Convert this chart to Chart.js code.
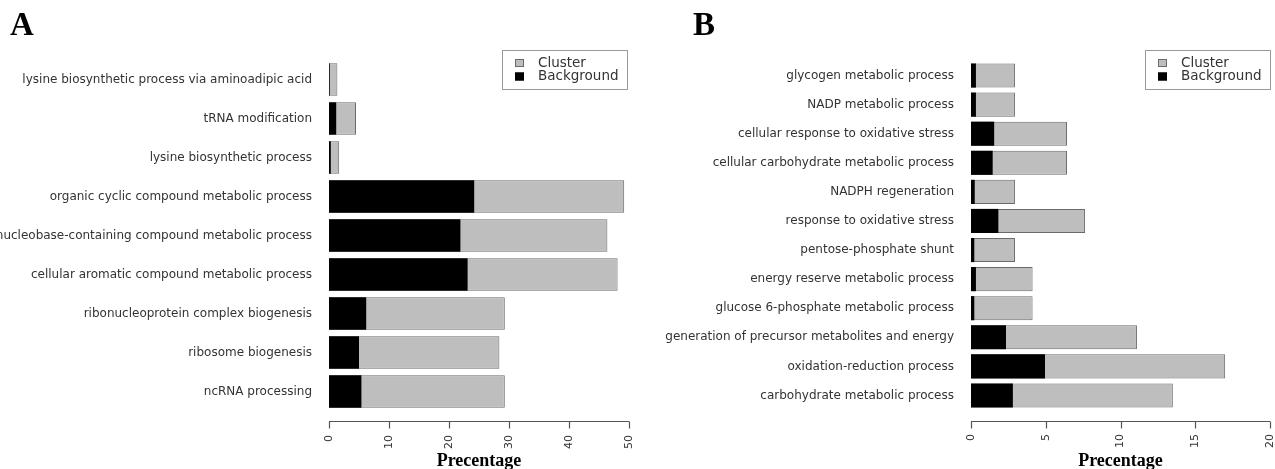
<!DOCTYPE html>
<html>
<head>
<meta charset="utf-8">
<title>GO enrichment, cluster vs background</title>
<script src="https://cdn.jsdelivr.net/npm/chart.js@4.4.1/dist/chart.umd.min.js"></script>
<style>
  html, body { margin: 0; padding: 0; background: #fff; }
  #wrap { position: relative; width: 1275px; height: 469px; }
  #chartA { position: absolute; left: 0; top: 0; }
  #chartB { position: absolute; left: 640px; top: 0; }
</style>
</head>
<body>
<div id="wrap">
  <canvas id="chartA" width="640" height="469"></canvas>
  <canvas id="chartB" width="635" height="469"></canvas>
</div>
<script>
// Panel A
const termsA = [
  'lysine biosynthetic process via aminoadipic acid',
  'tRNA modification',
  'lysine biosynthetic process',
  'organic cyclic compound metabolic process',
  'nucleobase-containing compound metabolic process',
  'cellular aromatic compound metabolic process',
  'ribonucleoprotein complex biogenesis',
  'ribosome biogenesis',
  'ncRNA processing'
];
const clusterA = [1.4, 4.5, 1.7, 49.2, 46.4, 48.1, 29.3, 28.4, 29.3];
const backgroundA = [0.1, 1.2, 0.3, 24.2, 21.9, 23.1, 6.2, 5.0, 5.4];
const ticksA = [0, 10, 20, 30, 40, 50];

// Panel B
const termsB = [
  'glycogen metabolic process',
  'NADP metabolic process',
  'cellular response to oxidative stress',
  'cellular carbohydrate metabolic process',
  'NADPH regeneration',
  'response to oxidative stress',
  'pentose-phosphate shunt',
  'energy reserve metabolic process',
  'glucose 6-phosphate metabolic process',
  'generation of precursor metabolites and energy',
  'oxidation-reduction process',
  'carbohydrate metabolic process'
];
const clusterB = [2.94, 2.94, 6.42, 6.42, 2.94, 7.63, 2.94, 4.12, 4.12, 11.1, 17.0, 13.5];
const backgroundB = [0.33, 0.33, 1.55, 1.45, 0.25, 1.83, 0.22, 0.33, 0.22, 2.34, 4.95, 2.8];
const ticksB = [0, 5, 10, 15, 20];

const seriesNames = ['Cluster', 'Background'];
const axisTitle = 'Precentage';

// R style axis: line detached from the plot, short ticks going down
const rAxis = {
  id: 'rAxis',
  afterDraw(chart, args, opts) {
    const ctx = chart.ctx;
    const x = chart.scales.x;
    const y = Math.round(chart.chartArea.bottom + opts.gap) + 0.5;
    ctx.save();
    ctx.strokeStyle = '#555';
    ctx.lineWidth = 1.2;
    ctx.beginPath();
    ctx.moveTo(x.getPixelForValue(x.min), y);
    ctx.lineTo(x.getPixelForValue(x.max), y);
    x.ticks.forEach(t => {
      const px = Math.round(x.getPixelForValue(t.value)) + 0.5;
      ctx.moveTo(px, y);
      ctx.lineTo(px, y + 7);
    });
    ctx.stroke();
    ctx.restore();
  }
};

// boxed legend in the top right corner, like legend() in R
const boxLegend = {
  id: 'boxLegend',
  afterDraw(chart, args, opts) {
    const ctx = chart.ctx;
    const left = chart.chartArea.right + opts.dx - opts.w;
    const top = opts.top;
    ctx.save();
    ctx.strokeStyle = '#999';
    ctx.lineWidth = 1;
    ctx.strokeRect(left + 0.5, top + 0.5, opts.w, opts.h);
    ctx.font = '13.5px "DejaVu Sans"';
    ctx.textBaseline = 'middle';
    chart.data.datasets.forEach((ds, i) => {
      const cy = top + 13 + i * 13.5;
      ctx.fillStyle = ds.backgroundColor;
      ctx.fillRect(left + 13, cy - 4, 9, 8);
      ctx.strokeStyle = ds.borderColor;
      ctx.strokeRect(left + 13.5, cy - 3.5, 8, 7);
      ctx.fillStyle = '#333';
      ctx.fillText(ds.label, left + 36, cy);
    });
    ctx.restore();
  }
};

// panel letter in the top left corner
const panelLetter = {
  id: 'panelLetter',
  afterDraw(chart, args, opts) {
    const ctx = chart.ctx;
    ctx.save();
    ctx.font = 'bold 33px "Liberation Serif"';
    ctx.fillStyle = '#000';
    ctx.textBaseline = 'alphabetic';
    ctx.fillText(opts.text, opts.x, 35);
    ctx.restore();
  }
};

function makeChart(id, letter, terms, cluster, background, ticks, o) {
  return new Chart(document.getElementById(id), {
    type: 'bar',
    data: {
      labels: terms,
      datasets: [
        {
          label: seriesNames[0],
          data: cluster,
          backgroundColor: '#bebebe',
          borderColor: '#6a6a6a',
          borderWidth: 1,
          borderSkipped: false,
          order: 2
        },
        {
          label: seriesNames[1],
          data: background,
          backgroundColor: '#000000',
          borderColor: '#000000',
          borderWidth: 0,
          order: 1
        }
      ]
    },
    options: {
      responsive: false,
      animation: false,
      indexAxis: 'y',
      layout: { padding: { left: 0, right: o.padRight, top: o.top, bottom: 0 } },
      datasets: { bar: { grouped: false, barPercentage: 0.83, categoryPercentage: 1 } },
      scales: {
        x: {
          min: ticks[0],
          max: ticks[ticks.length - 1],
          afterBuildTicks: s => { s.ticks = ticks.map(v => ({ value: v })); },
          afterFit: s => { s.height = 469 - o.bottom; s.paddingLeft = 0; s.paddingRight = 0; },
          grid: { display: false, drawTicks: false },
          border: { display: false },
          ticks: {
            autoSkip: false,
            minRotation: 90,
            maxRotation: 90,
            padding: 24,
            color: '#333',
            font: { family: 'DejaVu Sans', size: 11 }
          },
          title: {
            display: true,
            text: axisTitle,
            color: '#000',
            padding: 0,
            font: { family: 'Liberation Serif', size: 18, weight: 'bold', lineHeight: 0.85 }
          }
        },
        y: {
          afterFit: s => { s.width = o.yWidth; s.paddingTop = 0; s.paddingBottom = 0; },
          grid: { display: false, drawTicks: false },
          border: { display: false },
          ticks: {
            padding: 17,
            autoSkip: false,
            color: '#333',
            font: { family: 'DejaVu Sans', size: 12 }
          }
        }
      },
      plugins: {
        legend: { display: false },
        tooltip: { enabled: false },
        title: { display: false },
        rAxis: { gap: 421 - o.bottom },
        boxLegend: { dx: o.legendDx, w: 125, h: 39, top: 50 },
        panelLetter: { text: letter, x: o.letterX }
      }
    },
    plugins: [rAxis, boxLegend, panelLetter]
  });
}

makeChart('chartA', 'A', termsA, clusterA, backgroundA, ticksA,
  { padRight: 11, yWidth: 329, top: 60, bottom: 411, legendDx: -2, letterX: 10 });
makeChart('chartB', 'B', termsB, clusterB, backgroundB, ticksB,
  { padRight: 5, yWidth: 331, top: 61, bottom: 410, legendDx: 0, letterX: 53 });
</script>
</body>
</html>
